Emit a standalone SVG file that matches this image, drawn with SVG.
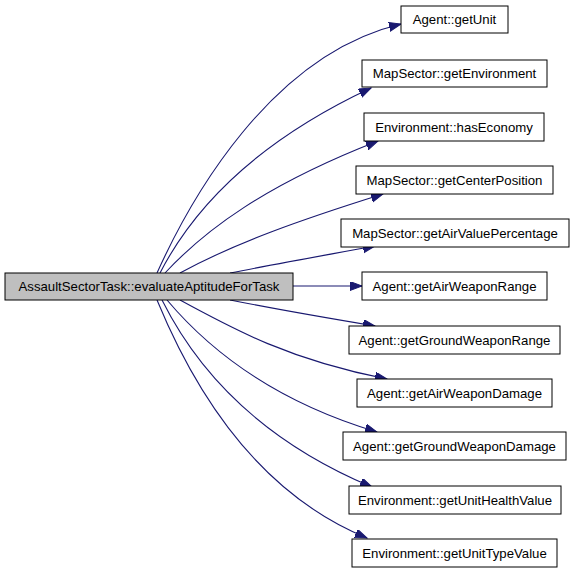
<svg xmlns="http://www.w3.org/2000/svg" width="573" height="573" viewBox="0 0 573 573">
<style>
.n rect{fill:#fff;stroke:#000;stroke-width:1}
.n text{font-family:"Liberation Sans",Arial,sans-serif;font-size:13.2px;text-anchor:middle;fill:#000}
#n0 rect{fill:#bfbfbf}
.e path{fill:none;stroke:#191970;stroke-width:1.1;marker-end:url(#ah)}
</style>
<defs>
<marker id="ah" markerUnits="userSpaceOnUse" markerWidth="14" markerHeight="12" refX="12" refY="4.5" orient="auto">
<path d="M0,0 L12,4.5 L0,9 z" fill="#191970" stroke="#191970" stroke-width="1"/>
</marker>
</defs>
<rect width="573" height="573" fill="#fff"/>
<g id="edges" class="e">
<path d="M157,273 C190,200 270,55 401,24"/>
<path d="M160,273 C195,205 260,140 371,88"/>
<path d="M165,273 C205,230 265,185 378,141"/>
<path d="M180,273 C235,243 300,220 383,194"/>
<path d="M230,273 C275,264 315,257 375,246"/>
<path d="M293,286 L362,286"/>
<path d="M230,300 C275,309 315,316 375,326"/>
<path d="M180,300 C235,330 290,360 387,379"/>
<path d="M167,300 C205,345 270,400 377,432"/>
<path d="M162,300 C197,370 260,440 372,487"/>
<path d="M157,300 C190,380 250,490 367,538"/>
</g>
<g id="n0" class="n"><rect x="5" y="273" width="288" height="27"/><text x="149" y="291">AssaultSectorTask::evaluateAptitudeForTask</text></g>
<g id="n1" class="n"><rect x="401" y="6" width="107" height="27"/><text x="454.5" y="24">Agent::getUnit</text></g>
<g id="n2" class="n"><rect x="362" y="60" width="185" height="27"/><text x="454.5" y="78">MapSector::getEnvironment</text></g>
<g id="n3" class="n"><rect x="364" y="113" width="180" height="28"/><text x="454" y="131.5">Environment::hasEconomy</text></g>
<g id="n4" class="n"><rect x="356" y="166" width="197" height="28"/><text x="454.5" y="184.5">MapSector::getCenterPosition</text></g>
<g id="n5" class="n"><rect x="341" y="219" width="228" height="28"/><text x="455" y="237.5">MapSector::getAirValuePercentage</text></g>
<g id="n6" class="n"><rect x="362" y="272" width="185" height="28"/><text x="454.5" y="290.5">Agent::getAirWeaponRange</text></g>
<g id="n7" class="n"><rect x="349" y="326" width="211" height="28"/><text x="454.5" y="344.5">Agent::getGroundWeaponRange</text></g>
<g id="n8" class="n"><rect x="357" y="379" width="195" height="28"/><text x="454.5" y="397.5">Agent::getAirWeaponDamage</text></g>
<g id="n9" class="n"><rect x="343" y="432" width="223" height="28"/><text x="454.5" y="450.5">Agent::getGroundWeaponDamage</text></g>
<g id="n10" class="n"><rect x="349" y="486" width="212" height="28"/><text x="455" y="504.5">Environment::getUnitHealthValue</text></g>
<g id="n11" class="n"><rect x="352" y="539" width="205" height="28"/><text x="454.5" y="557.5">Environment::getUnitTypeValue</text></g>
</svg>
